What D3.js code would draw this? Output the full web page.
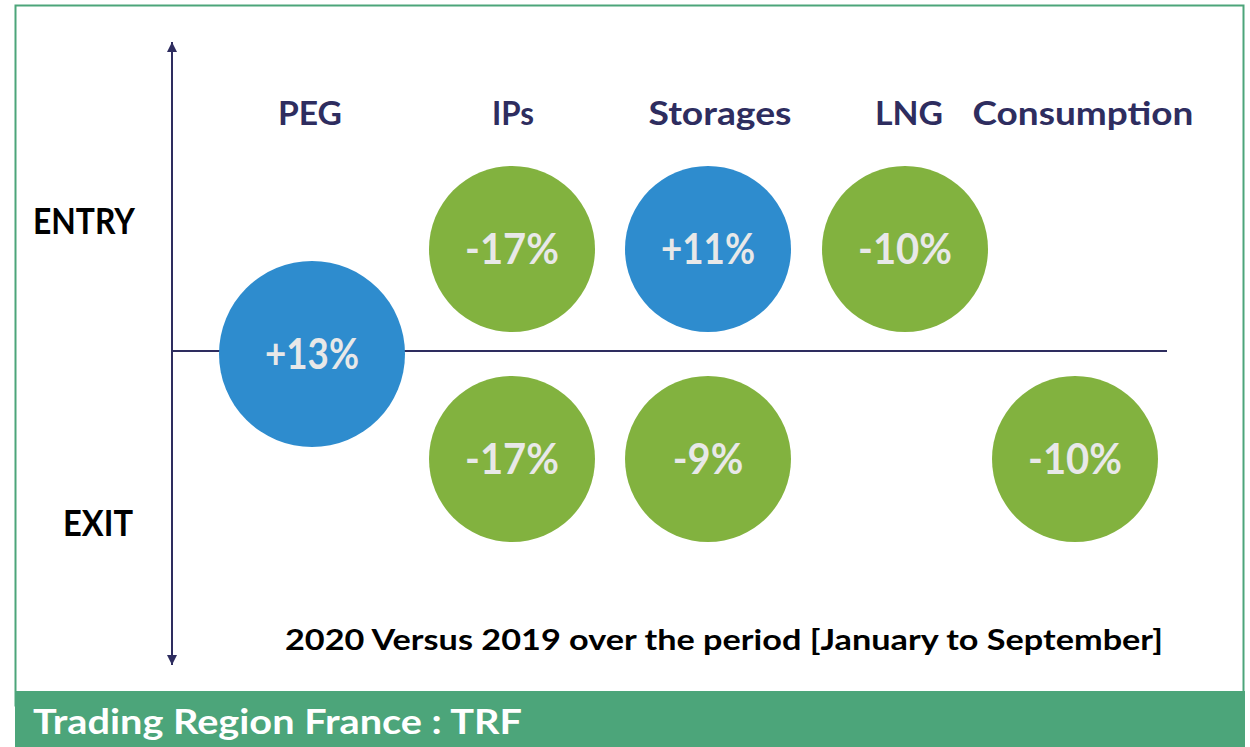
<!DOCTYPE html>
<html><head><meta charset="utf-8">
<script src="https://cdn.jsdelivr.net/npm/d3@7"></script>
<style>
html,body{margin:0;padding:0;background:#fff;}
svg{display:block;}
text{font-family:"Lato","Open Sans",sans-serif;font-weight:700;}
</style></head>
<body>
<script>
// ---- data ----
const categories = ["PEG", "IPs", "Storages", "LNG", "Consumption"];
const entryValues = [null, -17, 11, -10, null];
const exitValues  = [null, -17, -9, null, -10];
const combinedValues = [13, null, null, null, null]; // PEG straddles entry/exit
const rowLabels = ["ENTRY", "EXIT"];
const subtitle = "2020 Versus 2019 over the period [January to September]";
const bannerTitle = "Trading Region France : TRF";

const W = 1250, H = 747;
const navy = "#2E2D5F", green = "#82B23F", blue = "#2E8CCE", frameGreen = "#4CA57A", txtLight = "#E8E8E8";

const svg = d3.select("body").append("svg").attr("width", W).attr("height", H);

// frame
svg.append("rect").attr("x", 15.5).attr("y", 5.5).attr("width", 1228).attr("height", 700)
  .attr("fill", "#fff").attr("stroke", frameGreen).attr("stroke-width", 2);
// banner
svg.append("rect").attr("x", 15).attr("y", 691).attr("width", 1230).attr("height", 56).attr("fill", frameGreen);
svg.append("text").attr("x", 33).attr("y", 734).attr("fill", "#fff").attr("font-size", 34)
  .attr("textLength", 489).attr("lengthAdjust", "spacingAndGlyphs").text(bannerTitle);

// scales
const x = d3.scaleOrdinal().domain(categories).range([312, 512, 708, 905, 1075]);
const xLabel = d3.scaleOrdinal().domain(categories).range([310, 513, 720, 909, 1083]);
const y = d3.scaleLinear().domain([-1, 1]).range([459, 249]); // +1 entry, -1 exit, 0 axis

// axes
const defs = svg.append("defs");
defs.append("marker").attr("id", "arr").attr("viewBox", "0 0 10 10").attr("refX", 10).attr("refY", 5)
  .attr("markerWidth", 6).attr("markerHeight", 5).attr("orient", "auto-start-reverse")
  .append("path").attr("d", "M0,0L10,5L0,10Z").attr("fill", navy);
svg.append("line").attr("x1", 172).attr("x2", 172).attr("y1", 42).attr("y2", 665)
  .attr("stroke", navy).attr("stroke-width", 2)
  .attr("marker-start", "url(#arr)").attr("marker-end", "url(#arr)");
svg.append("line").attr("x1", 172).attr("x2", 1167).attr("y1", y(0) - 3).attr("y2", y(0) - 3)
  .attr("stroke", navy).attr("stroke-width", 2);

// column labels
const labelWidths = {PEG: 64, IPs: 42, Storages: 143, LNG: 68, Consumption: 221};
svg.selectAll("text.cat").data(categories).join("text").attr("class", "cat")
  .attr("x", d => xLabel(d)).attr("y", 125).attr("text-anchor", "middle")
  .attr("fill", navy).attr("font-size", 33)
  .attr("textLength", d => labelWidths[d]).attr("lengthAdjust", "spacingAndGlyphs")
  .text(d => d);

// row labels
svg.append("text").attr("x", 33).attr("y", 234).attr("fill", "#000").attr("font-size", 36)
  .attr("textLength", 102).attr("lengthAdjust", "spacingAndGlyphs").text(rowLabels[0]);
svg.append("text").attr("x", 63).attr("y", 536).attr("fill", "#000").attr("font-size", 36)
  .attr("textLength", 70).attr("lengthAdjust", "spacingAndGlyphs").text(rowLabels[1]);

// subtitle
svg.append("text").attr("x", 285).attr("y", 650).attr("fill", "#000").attr("font-size", 28)
  .attr("textLength", 878).attr("lengthAdjust", "spacingAndGlyphs").text(subtitle);

// bubbles
const bubbles = [];
categories.forEach((c, i) => {
  if (entryValues[i] != null) bubbles.push({cat: c, v: entryValues[i], row: 1, r: 83});
  if (exitValues[i] != null) bubbles.push({cat: c, v: exitValues[i], row: -1, r: 83});
  if (combinedValues[i] != null) bubbles.push({cat: c, v: combinedValues[i], row: 0, r: 93});
});
const fmt = v => (v > 0 ? "+" : "") + v + "%";
const g = svg.selectAll("g.b").data(bubbles).join("g").attr("class", "b")
  .attr("transform", d => `translate(${x(d.cat)},${y(d.row)})`);
g.append("circle").attr("r", d => d.r).attr("fill", d => d.v > 0 ? blue : green);
g.append("text").attr("text-anchor", "middle").attr("y", 15).attr("fill", txtLight)
  .attr("font-size", 42).attr("font-weight", 600)
  .attr("textLength", d => fmt(d.v).length * 23.5).attr("lengthAdjust", "spacingAndGlyphs")
  .text(d => fmt(d.v));
</script>
</body></html>
